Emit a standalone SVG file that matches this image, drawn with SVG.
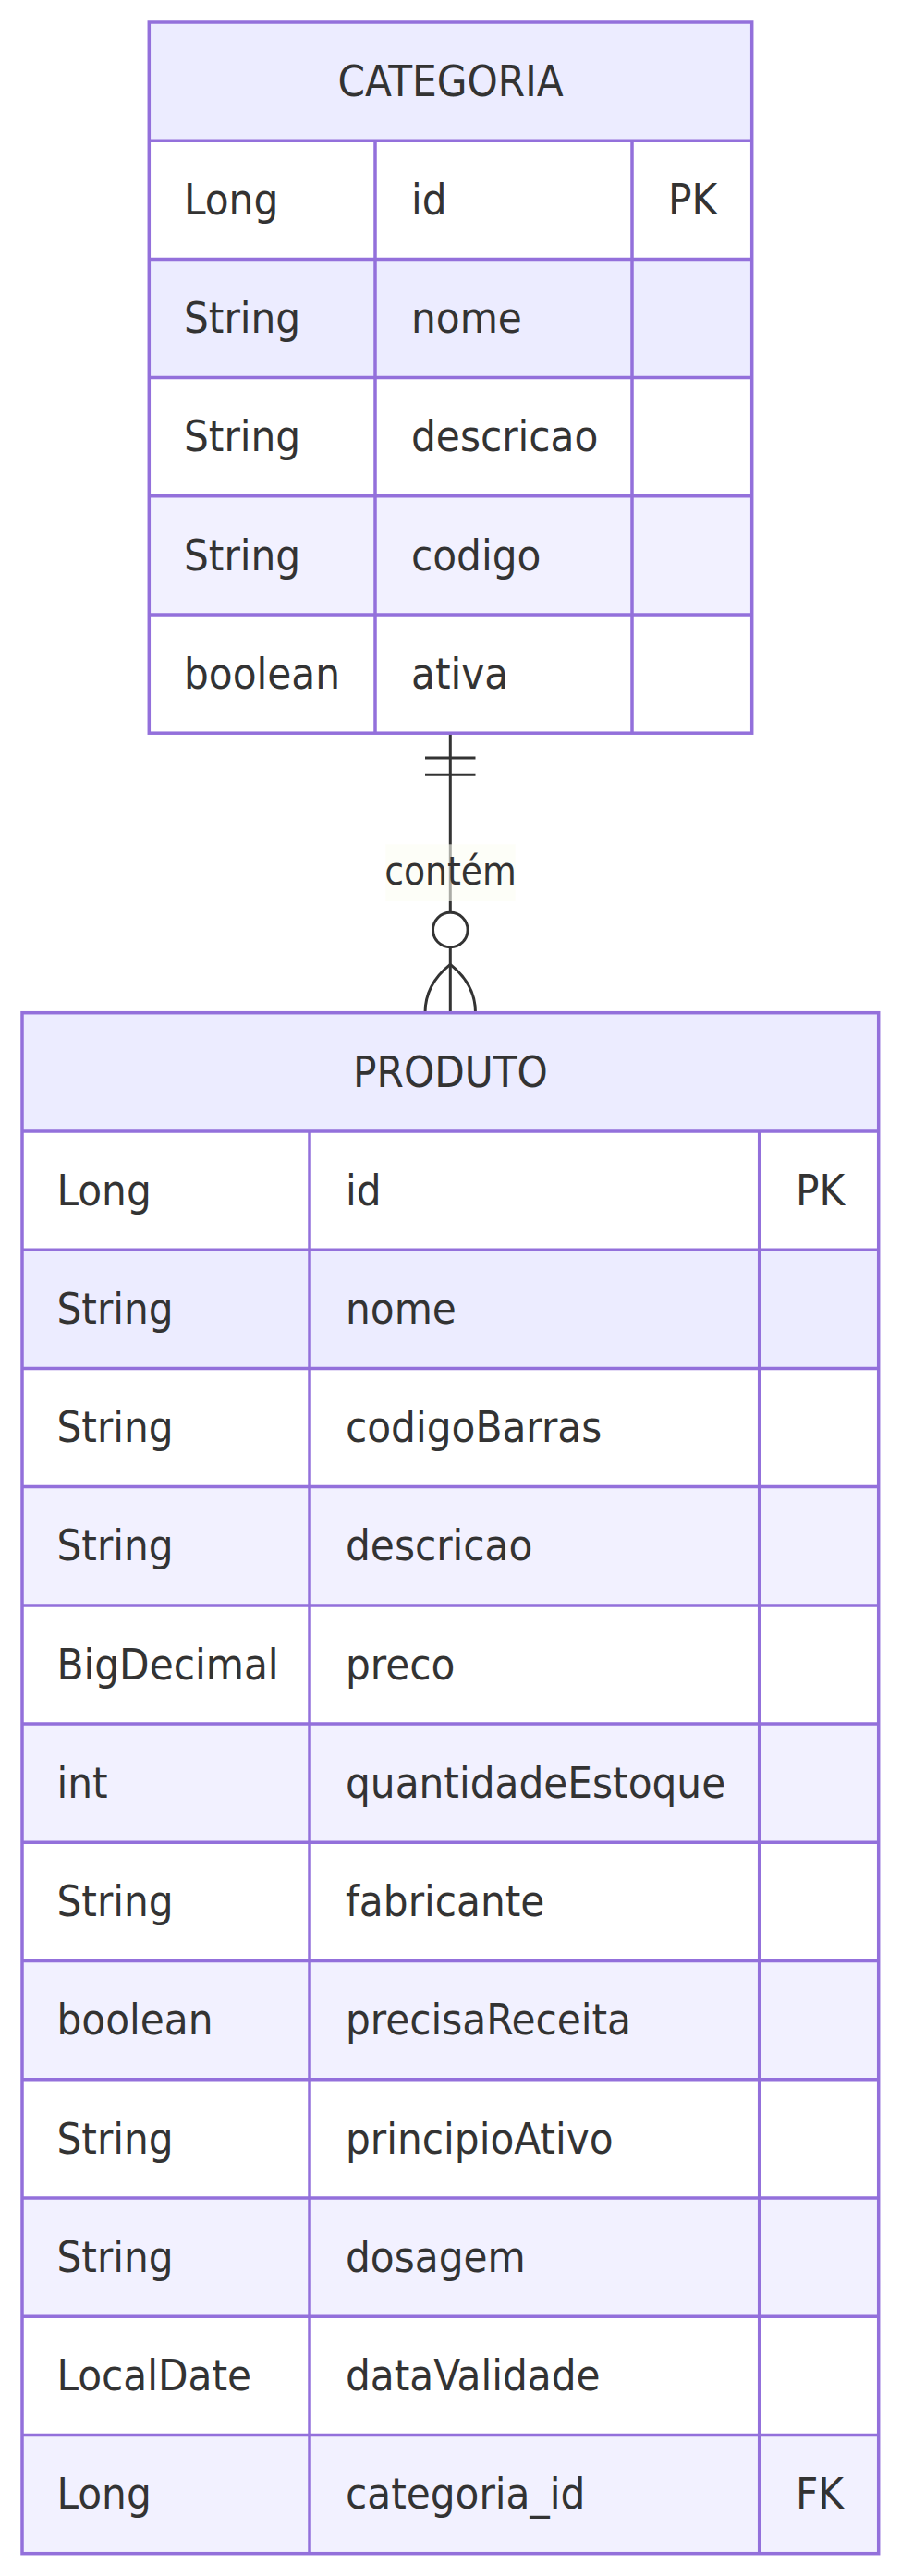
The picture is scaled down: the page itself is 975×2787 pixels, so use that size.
<svg xmlns="http://www.w3.org/2000/svg" width="975" height="2787" viewBox="0 0 975 2787">
<style>
.t{font-family:"DejaVu Sans Condensed","DejaVu Sans",sans-serif;font-size:47px;fill:#333333}
.h{text-anchor:middle}
.g{stroke:#9370DB;stroke-width:3.5;fill:none}
.hd{fill:#ECECFF}
.w{fill:#FFFFFF}
.a{fill:#ECECFF}
.b{fill:#F2F1FF}
.e{stroke:#333333;stroke-width:3;fill:none}
.lbl{font-family:"DejaVu Sans Condensed","DejaVu Sans",sans-serif;font-size:42px;fill:#333333;text-anchor:middle}
</style>
<rect width="975" height="2787" fill="#FFFFFF"/>
<g id="connectors">
<line class="e" x1="487.3" y1="793" x2="487.3" y2="987"/>
<line class="e" x1="460" y1="820" x2="514.5" y2="820"/>
<line class="e" x1="460" y1="838.3" x2="514.5" y2="838.3"/>
<circle class="e" cx="487.3" cy="1006" r="18.8"/>
<line class="e" x1="487.3" y1="1024.8" x2="487.3" y2="1095.7"/>
<path class="e" d="M487.3,1043.3 Q460,1065 460,1095.7"/>
<path class="e" d="M487.3,1043.3 Q514.5,1065 514.5,1095.7"/>
<rect x="417.3" y="913.3" width="140.4" height="61.7" fill="#FBFDF3" fill-opacity="0.6"/>
<text class="lbl" x="487.5" y="957">contém</text>
</g>
<g id="CATEGORIA">
<rect class="hd" x="161.3" y="24" width="652.4" height="128.2"/>
<rect class="w" x="161.3" y="152.2" width="652.4" height="128.2"/>
<rect class="a" x="161.3" y="280.4" width="652.4" height="128.2"/>
<rect class="w" x="161.3" y="408.6" width="652.4" height="128.2"/>
<rect class="b" x="161.3" y="536.8" width="652.4" height="128.2"/>
<rect class="w" x="161.3" y="665" width="652.4" height="128.2"/>
<rect class="g" x="161.3" y="24" width="652.4" height="769.2"/>
<path class="g" d="M161.3,152.2H813.7M161.3,280.4H813.7M161.3,408.6H813.7M161.3,536.8H813.7M161.3,665H813.7M406,152.2V793.2M684,152.2V793.2"/>
<text class="t h" x="487.5" y="104">CATEGORIA</text>
<text class="t" x="199" y="232">Long</text><text class="t" x="445" y="232">id</text><text class="t" x="723" y="232">PK</text>
<text class="t" x="199" y="360.2">String</text><text class="t" x="445" y="360.2">nome</text>
<text class="t" x="199" y="488.4">String</text><text class="t" x="445" y="488.4">descricao</text>
<text class="t" x="199" y="616.6">String</text><text class="t" x="445" y="616.6">codigo</text>
<text class="t" x="199" y="744.8">boolean</text><text class="t" x="445" y="744.8">ativa</text>
</g>
<g id="PRODUTO">
<rect class="hd" x="24" y="1095.7" width="926.7" height="128.2"/>
<rect class="w" x="24" y="1223.9" width="926.7" height="128.3"/>
<rect class="a" x="24" y="1352.2" width="926.7" height="128.2"/>
<rect class="w" x="24" y="1480.4" width="926.7" height="128.2"/>
<rect class="b" x="24" y="1608.6" width="926.7" height="128.3"/>
<rect class="w" x="24" y="1736.9" width="926.7" height="128.2"/>
<rect class="b" x="24" y="1865.1" width="926.7" height="128.2"/>
<rect class="w" x="24" y="1993.3" width="926.7" height="128.2"/>
<rect class="b" x="24" y="2121.5" width="926.7" height="128.3"/>
<rect class="w" x="24" y="2249.8" width="926.7" height="128.2"/>
<rect class="b" x="24" y="2378" width="926.7" height="128.2"/>
<rect class="w" x="24" y="2506.2" width="926.7" height="128.3"/>
<rect class="b" x="24" y="2634.5" width="926.7" height="128.2"/>
<rect class="g" x="24" y="1095.7" width="926.7" height="1667"/>
<path class="g" d="M24,1223.9H950.7M24,1352.2H950.7M24,1480.4H950.7M24,1608.6H950.7M24,1736.9H950.7M24,1865.1H950.7M24,1993.3H950.7M24,2121.5H950.7M24,2249.8H950.7M24,2378H950.7M24,2506.2H950.7M24,2634.5H950.7M335,1223.9V2762.7M821.7,1223.9V2762.7"/>
<text class="t h" x="487.4" y="1176">PRODUTO</text>
<text class="t" x="61.5" y="1303.7">Long</text><text class="t" x="374" y="1303.7">id</text><text class="t" x="861" y="1303.7">PK</text>
<text class="t" x="61.5" y="1432">String</text><text class="t" x="374" y="1432">nome</text>
<text class="t" x="61.5" y="1560.2">String</text><text class="t" x="374" y="1560.2">codigoBarras</text>
<text class="t" x="61.5" y="1688.4">String</text><text class="t" x="374" y="1688.4">descricao</text>
<text class="t" x="61.5" y="1816.7">BigDecimal</text><text class="t" x="374" y="1816.7">preco</text>
<text class="t" x="61.5" y="1944.9">int</text><text class="t" x="374" y="1944.9">quantidadeEstoque</text>
<text class="t" x="61.5" y="2073.1">String</text><text class="t" x="374" y="2073.1">fabricante</text>
<text class="t" x="61.5" y="2201.3">boolean</text><text class="t" x="374" y="2201.3">precisaReceita</text>
<text class="t" x="61.5" y="2329.6">String</text><text class="t" x="374" y="2329.6">principioAtivo</text>
<text class="t" x="61.5" y="2457.8">String</text><text class="t" x="374" y="2457.8">dosagem</text>
<text class="t" x="61.5" y="2586">LocalDate</text><text class="t" x="374" y="2586">dataValidade</text>
<text class="t" x="61.5" y="2714.3">Long</text><text class="t" x="374" y="2714.3">categoria_id</text><text class="t" x="861" y="2714.3">FK</text>
</g>
</svg>
